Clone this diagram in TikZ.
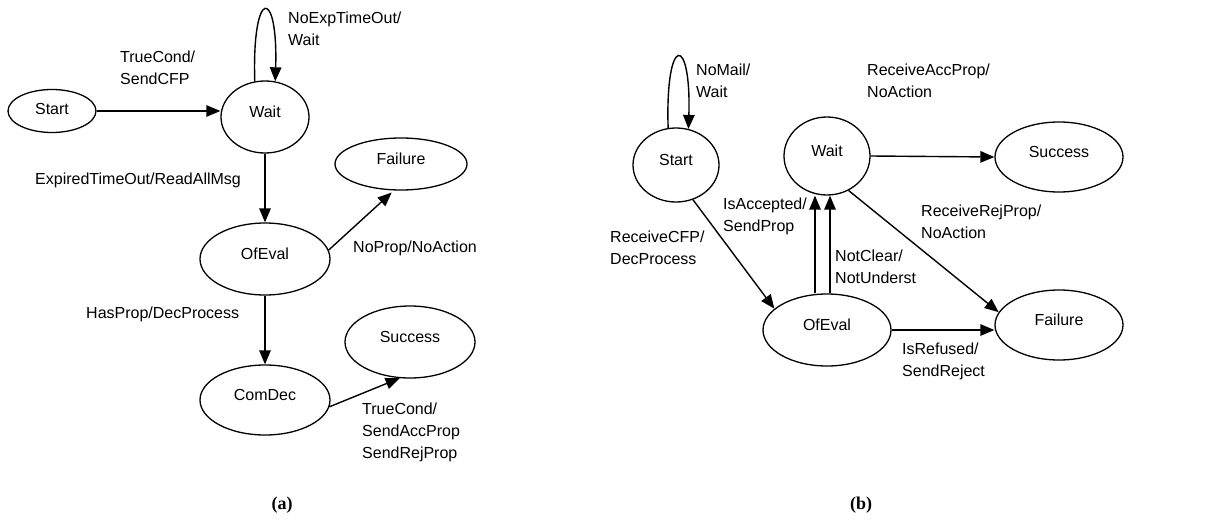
\documentclass[tikz,border=0pt]{standalone}
\usepackage{fontspec}
\setmainfont{Liberation Sans}
\newfontfamily\capfont{Liberation Serif}
\usetikzlibrary{shapes.geometric,arrows.meta,calc}

\begin{document}
\begin{tikzpicture}[x=1pt,y=-1pt,
  every node/.style={font=\fontsize{16}{22}\selectfont},
  state/.style={ellipse,draw,line width=1.3pt,inner sep=0pt,
    text height=11pt,text depth=11pt},
  lbl/.style={anchor=west,align=left,inner sep=0pt},
  arr/.style={line width=1.4pt,-{Triangle[length=14pt,width=11.5pt]}},
  subcap/.style={font=\capfont\bfseries\fontsize{18}{22}\selectfont}]
\useasboundingbox (0,0) rectangle (1209,519);

% ---------- (a) ----------
\node[state,minimum width=88pt,minimum height=43pt,text depth=5pt] (sa) at (52,111) {Start};
\node[state,minimum width=88pt,minimum height=72pt] (wa) at (265,117) {Wait};
\node[state,minimum width=132pt,minimum height=52pt] (fa) at (401,164) {Failure};
\node[state,minimum width=130pt,minimum height=72pt] (oa) at (265,259) {OfEval};
\node[state,minimum width=130pt,minimum height=70pt] (ca) at (265,400) {ComDec};
\node[state,minimum width=130pt,minimum height=72pt] (sua) at (410,342) {Success};

\draw[arr] (sa.east) -- (sa.east -| wa.west);
\draw[arr] (wa.106) .. controls +(-3,-95) and +(3,-95) .. (wa.74);
\draw[arr] (wa.south) -- (oa.north);
\draw[arr,shorten >=3pt] (oa.8) -- (fa.-105);
\draw[arr] (oa.south) -- (ca.north);
\draw[arr] (ca.-6) -- (sua.-106);

\node[lbl] (la1) at (120,68) {TrueCond/\\SendCFP};
\node[lbl] (la2) at (288,29) {NoExpTimeOut/\\Wait};
\node[lbl] (la3) at (35,180) {ExpiredTimeOut/ReadAllMsg};
\node[lbl] (la4) at (353,248) {NoProp/NoAction};
\node[lbl] (la5) at (86,314) {HasProp/DecProcess};
\node[lbl] (la6) at (362,432) {TrueCond/\\SendAccProp\\SendRejProp};
\node[subcap] (capa) at (282,505) {(a)};

% ---------- (b) ----------
\node[state,minimum width=86pt,minimum height=74pt] (sb) at (676,165) {Start};
\node[state,minimum width=86pt,minimum height=78pt] (wb) at (827,156) {Wait};
\node[state,minimum width=128pt,minimum height=70pt] (sub) at (1059,157) {Success};
\node[state,minimum width=128pt,minimum height=72pt] (ob) at (827,330) {OfEval};
\node[state,minimum width=128pt,minimum height=70pt] (fb) at (1059,325) {Failure};

\draw[arr] (sb.102) .. controls +(-3,-95) and +(3,-95) .. (sb.71);
\draw[arr] (sb.-64) -- (ob.158);
\draw[arr] ([xshift=-12pt]ob.north) -- ([xshift=-12pt]ob.north |- wb.south);
\draw[arr] ([xshift=3pt]ob.north) -- ([xshift=3pt]ob.north |- wb.south);
\draw[arr] (wb.east) -- (sub.west);
\draw[arr] (wb.-58) -- (fb.168);
\draw[arr] (ob.east) -- (ob.east -| fb.west);

\node[lbl] (lb1) at (696,81) {NoMail/\\Wait};
\node[lbl] (lb2) at (867,81) {ReceiveAccProp/\\NoAction};
\node[lbl] (lb3) at (723,216) {IsAccepted/\\SendProp};
\node[lbl] (lb4) at (610,248) {ReceiveCFP/\\DecProcess};
\node[lbl] (lb5) at (921,222) {ReceiveRejProp/\\NoAction};
\node[lbl] (lb6) at (835,267) {NotClear/\\NotUnderst};
\node[lbl] (lb7) at (902,361) {IsRefused/\\SendReject};
\node[subcap] (capb) at (861,505) {(b)};
\end{tikzpicture}
\end{document}
